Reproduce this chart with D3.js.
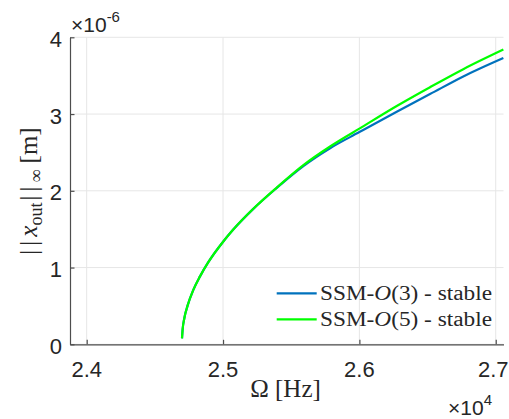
<!DOCTYPE html>
<html>
<head>
<meta charset="utf-8">
<script src="https://cdn.jsdelivr.net/npm/d3@7/dist/d3.min.js"></script>
<style>
  html, body { margin: 0; padding: 0; background: #fff; }
  svg { display: block; }
</style>
</head>
<body>
<div id="chart"></div>
<script>
// Forcing frequency (Hz) along the branch
const omega = [24699, 24704, 24716, 24741, 24782, 24831, 24892, 25002, 25075, 25222,
               25394, 25589, 25785, 26000, 26274, 26518, 26762, 27056];
// Steady-state amplitude (m, in units of 1e-6) for each expansion order
const ampO3 = [0.078, 0.20, 0.34, 0.51, 0.71, 0.885, 1.07, 1.34, 1.495, 1.765,
               2.038, 2.322, 2.555, 2.765, 3.03, 3.26, 3.49, 3.73];
const ampO5 = [0.078, 0.20, 0.34, 0.51, 0.71, 0.885, 1.07, 1.34, 1.495, 1.765,
               2.042, 2.334, 2.577, 2.81, 3.105, 3.35, 3.585, 3.84];

const xTicks = [24000, 25000, 26000, 27000];
const xTickLabels = ["2.4", "2.5", "2.6", "2.7"];
const yTicks = [0, 1, 2, 3, 4];
const yTickLabels = ["0", "1", "2", "3", "4"];
const seriesColors = ["#0072BD", "#00FF00"];
const legendOrders = ["3", "5"];

const W = 509, H = 419;
const margin = { left: 70, right: 5.5, top: 37.3, bottom: 74.7 };
const iw = W - margin.left - margin.right;
const ih = H - margin.top - margin.bottom;

const svg = d3.select("#chart").append("svg")
  .attr("width", W).attr("height", H);

const g = svg.append("g").attr("transform", `translate(${margin.left},${margin.top})`);

const x = d3.scaleLinear().domain([23877.5, 27057]).range([0, iw]);
const y = d3.scaleLinear().domain([0, 4]).range([ih, 0]);

const sansFont = "'Liberation Sans', Arial, sans-serif";
const serifFont = "'Liberation Serif', 'Times New Roman', serif";
const textColor = "#262626";
const axisColor = "#4d4d4d";

// grid
g.append("g").selectAll("line").data(xTicks).join("line")
  .attr("x1", d => x(d)).attr("x2", d => x(d))
  .attr("y1", 0).attr("y2", ih)
  .attr("stroke", "#e6e6e6").attr("stroke-width", 1);
g.append("g").selectAll("line").data(yTicks).join("line")
  .attr("x1", 0).attr("x2", iw)
  .attr("y1", d => y(d)).attr("y2", d => y(d))
  .attr("stroke", "#e6e6e6").attr("stroke-width", 1);

// axes (inward ticks, labels drawn separately)
const xAxis = g.append("g").attr("transform", `translate(0,${ih})`)
  .call(d3.axisBottom(x).tickValues(xTicks).tickSizeInner(-4.5).tickSizeOuter(0).tickFormat(""));
const yAxis = g.append("g")
  .call(d3.axisLeft(y).tickValues(yTicks).tickSizeInner(-4.5).tickSizeOuter(0).tickFormat(""));
[xAxis, yAxis].forEach(a => {
  a.select(".domain").attr("stroke", axisColor).attr("stroke-width", 1.2);
  a.selectAll(".tick line").attr("stroke", axisColor).attr("stroke-width", 1.2);
});

// tick labels (kept inside the canvas at the right edge)
g.append("g").selectAll("text").data(xTicks).join("text")
  .attr("x", d => x(d)).attr("y", ih + 32.4)
  .attr("text-anchor", "middle")
  .attr("font-family", sansFont).attr("font-size", 22).attr("fill", textColor)
  .text((d, i) => xTickLabels[i])
  .each(function (d) {
    const half = this.getComputedTextLength() / 2;
    const maxX = W - margin.left - 0.5 - half;
    if (x(d) > maxX) d3.select(this).attr("x", maxX);
  });
g.append("g").selectAll("text").data(yTicks).join("text")
  .attr("x", -8).attr("y", d => y(d) + 9.5)
  .attr("text-anchor", "end")
  .attr("font-family", sansFont).attr("font-size", 22).attr("fill", textColor)
  .text((d, i) => yTickLabels[i]);

// exponent labels
const expY = svg.append("text").attr("x", 71).attr("y", 32)
  .attr("font-family", sansFont).attr("fill", textColor).attr("font-size", 21);
expY.append("tspan").text("×10");
expY.append("tspan").attr("font-size", 15).attr("dy", -10).text("-6");

const expX = svg.append("text").attr("x", 448).attr("y", 415)
  .attr("font-family", sansFont).attr("fill", textColor).attr("font-size", 21);
expX.append("tspan").text("×10");
expX.append("tspan").attr("font-size", 15).attr("dy", -10).text("4");

// axis titles
svg.append("text").attr("x", 285.5).attr("y", 397)
  .attr("text-anchor", "middle")
  .attr("font-family", serifFont).attr("font-size", 25).attr("fill", textColor)
  .text("Ω [Hz]");

const yl = svg.append("text")
  .attr("transform", "translate(37,191) rotate(-90)")
  .attr("text-anchor", "middle")
  .attr("font-family", serifFont).attr("font-size", 25).attr("fill", textColor);
yl.append("tspan").attr("letter-spacing", 4).text("||");
yl.append("tspan").attr("font-style", "italic").text("x");
yl.append("tspan").attr("font-size", 18).attr("dy", 5).text("out");
yl.append("tspan").attr("dy", -5).attr("dx", 2).attr("letter-spacing", 4).text("||");
yl.append("tspan").attr("font-size", 18).attr("dy", 5).text("∞");
yl.append("tspan").attr("dy", -5).text(" [m]");

// curves
const series = [ampO3, ampO5];
const line = d3.line()
  .x(d => x(d[0])).y(d => y(d[1]))
  .curve(d3.curveMonotoneX);
series.forEach((vals, k) => {
  g.append("path")
    .datum(omega.map((o, i) => [o, vals[i]]))
    .attr("fill", "none")
    .attr("stroke", seriesColors[k])
    .attr("stroke-width", 2.2)
    .attr("stroke-linejoin", "round")
    .attr("d", line);
});

// legend (no frame)
const legend = svg.append("g");
legendOrders.forEach((lab, i) => {
  const ly = 293.3 + i * 26;
  legend.append("line")
    .attr("x1", 276.7).attr("x2", 316.7).attr("y1", ly).attr("y2", ly)
    .attr("stroke", seriesColors[i]).attr("stroke-width", 2.2);
  const t = legend.append("text")
    .attr("x", 320).attr("y", ly + 6.5)
    .attr("font-family", serifFont).attr("font-size", 20).attr("fill", textColor)
    .attr("textLength", 172).attr("lengthAdjust", "spacingAndGlyphs");
  t.append("tspan").text("SSM-");
  t.append("tspan").attr("font-style", "italic").text("O");
  t.append("tspan").text(`(${lab}) - stable`);
});
</script>
</body>
</html>
